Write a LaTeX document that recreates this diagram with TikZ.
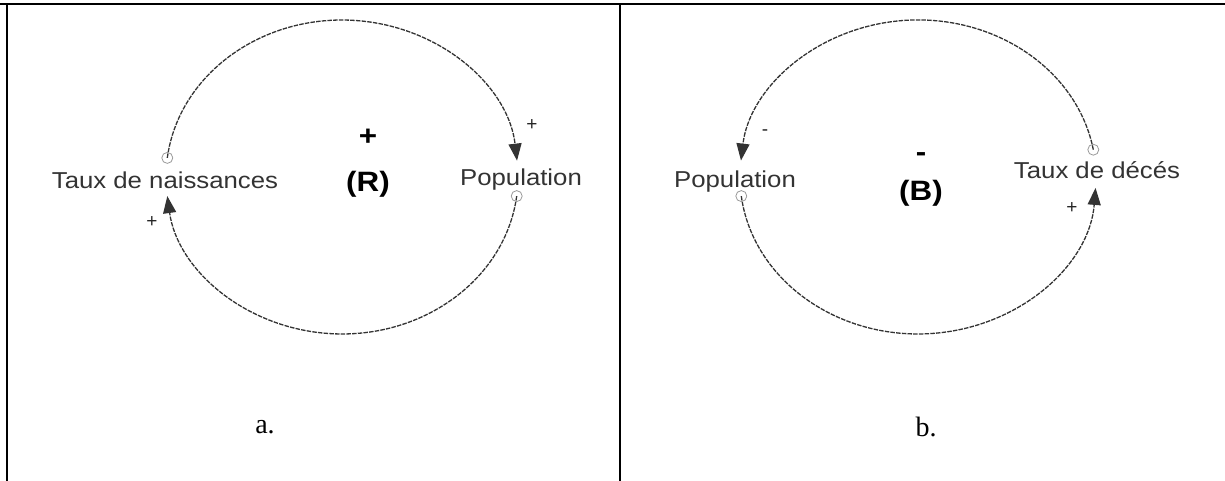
\documentclass[tikz,border=0pt]{standalone}
\usepackage{fontspec}
\setmainfont{Liberation Serif}
\newfontfamily\arialf{Liberation Sans}
\usetikzlibrary{arrows.meta}
\tikzset{
  lbl/.style={font=\arialf\fontsize{23}{26}\selectfont, text=black!80, inner sep=0pt, xscale=1.12},
  pol/.style={font=\arialf\fontsize{19}{21}\selectfont, text=black!85, inner sep=0pt},
  loopmark/.style={font=\arialf\bfseries\fontsize{28}{31}\selectfont, inner sep=0pt, xscale=1.12},
  panelcap/.style={font=\fontsize{28}{31}\selectfont, inner sep=0pt},
  link/.style={draw=black!80, line width=1.3pt, dash pattern=on 4.5pt off 1.2pt},
  linktip/.style={-{Triangle[length=17pt,width=13pt]}},
  origin/.style={draw=black!40, line width=0.8pt, fill=none},
  border/.style={draw=black, line width=1.4pt}
}
\begin{document}
\begin{tikzpicture}[x=1pt,y=1pt]
\useasboundingbox (0,0) rectangle (1225,481);
% table borders
\draw[border] (0,477) -- (1225,477);
\draw[black, line width=2.6pt] (0,477) -- (43,477);
\draw[black, line width=2.6pt] (1188,477) -- (1225,477);
\draw[black, line width=2.2pt] (7,477) -- (7,0);
\draw[black, line width=1.8pt] (620,477) -- (620,0);

% ---------------- panel a ----------------
\coordinate (aTs) at (167.3,323.1);
\coordinate (aPs) at (516.7,284.9);
\draw[link, linktip] (aTs) arc[start angle=173, end angle=6, x radius=176, y radius=157];
\draw[link, linktip] (aPs) arc[start angle=-7, end angle=-173, x radius=176, y radius=157];
\draw[origin] (aTs) circle[radius=5.5];
\draw[origin] (aPs) circle[radius=5.5];
\node[lbl] (aT) at (165,301) {Taux de naissances};
\node[lbl] (aP) at (521,301) {Population};
\node[pol] (aplus1) at (532,356) {+};
\node[pol] (aplus2) at (152,259) {+};
\node[loopmark] (asign) at (368,344) {+};
\node[loopmark] (aR) at (368,297) {(R)};
\node[panelcap] (acap) at (265,54) {a.};

% ---------------- panel b ----------------
\coordinate (bTs) at (1093.3,331.3);
\coordinate (bPs) at (741.3,284.9);
\draw[link, linktip] (bTs) arc[start angle=10, end angle=174, x radius=178, y radius=157];
\draw[link, linktip] (bPs) arc[start angle=187, end angle=356, x radius=178, y radius=157];
\draw[origin] (bTs) circle[radius=5.5];
\draw[origin] (bPs) circle[radius=5.5];
\node[lbl] (bP) at (735,299) {Population};
\node[lbl] (bT) at (1097,311) {Taux de décés};
\node[pol] (bminus) at (765,348) {-};
\node[pol] (bplus) at (1072,273) {+};
\node[loopmark] (bsign) at (921,324) {-};
\node[loopmark] (bB) at (921,288) {(B)};
\node[panelcap] (bcap) at (926,54) {b.};
\end{tikzpicture}
\end{document}
